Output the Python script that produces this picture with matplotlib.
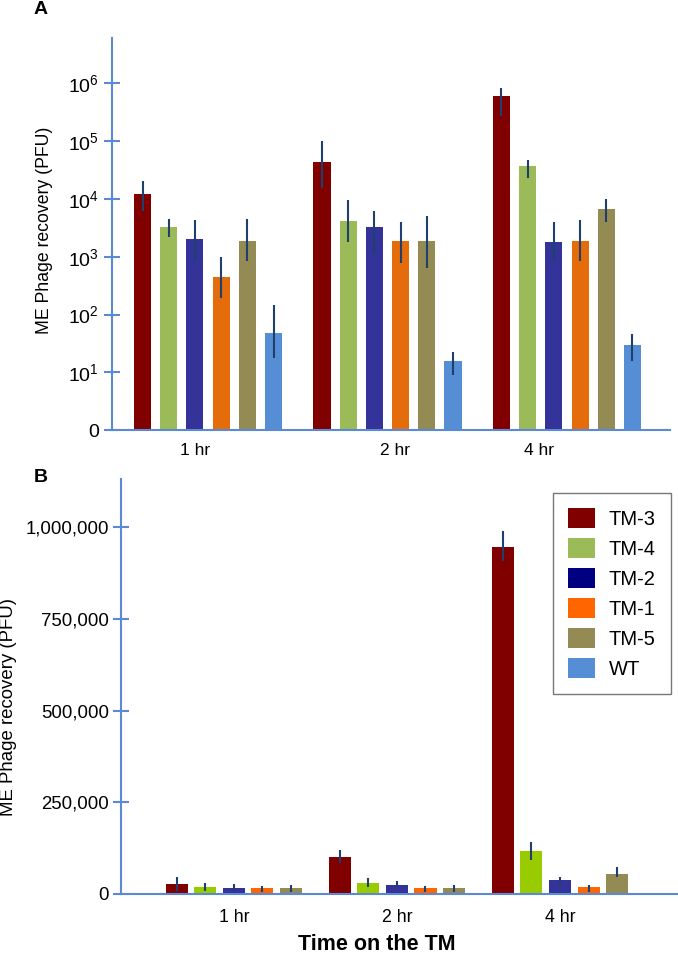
import matplotlib
matplotlib.use("Agg")
import matplotlib.pyplot as plt
from matplotlib.patches import Patch
from matplotlib.ticker import FuncFormatter
import numpy as np

plt.rcParams['font.family'] = ['Liberation Sans', 'DejaVu Sans']
plt.rcParams['mathtext.fontset'] = 'custom'
plt.rcParams['mathtext.rm'] = 'Liberation Sans'
plt.rcParams['mathtext.it'] = 'Liberation Sans:italic'
plt.rcParams['mathtext.bf'] = 'Liberation Sans:bold'

# ---------------- data ----------------
times = ["1 hr", "2 hr", "4 hr"]
strains = ["TM-3", "TM-4", "TM-2", "TM-1", "TM-5", "WT"]

# Panel A (log scale) : mean, lower and upper end of error bars
a_tm3 = [12000, 43000, 600000]
a_tm3_lo = [6300, 15800, 269000]
a_tm3_hi = [20900, 102000, 851000]
a_tm4 = [3250, 4100, 38000]
a_tm4_lo = [2240, 1780, 23400]
a_tm4_hi = [4470, 9550, 46800]
a_tm2 = [2000, 3250, 1780]
a_tm2_lo = [830, 1100, 830]
a_tm2_hi = [4270, 6170, 4070]
a_tm1 = [455, 1850, 1900]
a_tm1_lo = [190, 794, 830]
a_tm1_hi = [977, 4070, 4270]
a_tm5 = [1900, 1850, 6600]
a_tm5_lo = [830, 646, 3980]
a_tm5_hi = [4470, 5010, 10200]
a_wt = [47, 15.5, 30]
a_wt_lo = [17.4, 8.9, 15.5]
a_wt_hi = [145, 22.9, 45.7]

# Panel B (linear scale)
b_tm3 = [26000, 101000, 946000]
b_tm3_lo = [8000, 84000, 909000]
b_tm3_hi = [46000, 120000, 990000]
b_tm4 = [19000, 30000, 117000]
b_tm4_lo = [8000, 19000, 92000]
b_tm4_hi = [30000, 44000, 142000]
b_tm2 = [16000, 25000, 38000]
b_tm2_lo = [6000, 19000, 30000]
b_tm2_hi = [26000, 36000, 47000]
b_tm1 = [16000, 15000, 18000]
b_tm1_lo = [4500, 6000, 6000]
b_tm1_hi = [22000, 23000, 24000]
b_tm5 = [15000, 15000, 55000]
b_tm5_lo = [4500, 6000, 47000]
b_tm5_hi = [25000, 25000, 74000]
b_wt = [47, 15.5, 30]
b_wt_lo = [17.4, 8.9, 15.5]
b_wt_hi = [145, 22.9, 45.7]

a_series = [(a_tm3, a_tm3_lo, a_tm3_hi), (a_tm4, a_tm4_lo, a_tm4_hi),
            (a_tm2, a_tm2_lo, a_tm2_hi), (a_tm1, a_tm1_lo, a_tm1_hi),
            (a_tm5, a_tm5_lo, a_tm5_hi), (a_wt, a_wt_lo, a_wt_hi)]
b_series = [(b_tm3, b_tm3_lo, b_tm3_hi), (b_tm4, b_tm4_lo, b_tm4_hi),
            (b_tm2, b_tm2_lo, b_tm2_hi), (b_tm1, b_tm1_lo, b_tm1_hi),
            (b_tm5, b_tm5_lo, b_tm5_hi), (b_wt, b_wt_lo, b_wt_hi)]

a_colors = ["#800000", "#9BBB59", "#333399", "#E46C0A", "#948A54", "#558ED5"]
b_colors = ["#800000", "#99CC00", "#333399", "#FF6600", "#948A54", "#558ED5"]
legend_colors = ["#800000", "#9BBB59", "#000080", "#FF6600", "#948A54", "#558ED5"]

axis_color = "#5B89D6"
err_color = "#1F3F6F"

fig = plt.figure(figsize=(6.78, 9.6), dpi=100)

# ---------------- Panel A ----------------
axA = fig.add_axes([0.1652, 0.552, 0.823, 0.408])
x = np.arange(len(times))
stepA = 0.146
widthA = 0.095
for i, (vals, lo, hi) in enumerate(a_series):
    v = np.array(vals, float)
    yerr = [v - np.array(lo), np.array(hi) - v]
    pos = x + (i - 2.5) * stepA
    axA.bar(pos, v, width=widthA, color=a_colors[i], zorder=2)
    axA.errorbar(pos, v, yerr=yerr, fmt='none', ecolor=err_color,
                 elinewidth=1.5, capsize=0, zorder=3)
axA.set_yscale('log')
axA.set_ylim(1, 10 ** 6.78)
axA.set_xlim(-0.535, 2.574)
axA.set_yticks([1, 10, 100, 1e3, 1e4, 1e5, 1e6])
axA.set_yticklabels(["0"] + [r"$\mathregular{10^{%d}}$" % k for k in range(1, 7)])
axA.yaxis.set_minor_locator(matplotlib.ticker.NullLocator())
axA.set_xticks([-0.072, 1.042, 1.844])
axA.set_xticklabels(times)
axA.tick_params(axis='x', length=0, pad=9, labelsize=12.5)
axA.tick_params(axis='y', direction='inout', length=11, width=1.5,
                color=axis_color, pad=4, labelsize=14)
for s in ['top', 'right']:
    axA.spines[s].set_visible(False)
for s in ['left', 'bottom']:
    axA.spines[s].set_color(axis_color)
    axA.spines[s].set_linewidth(1.5)
axA.set_ylabel("ME Phage recovery (PFU)", fontsize=12.7)
axA.yaxis.set_label_coords(-0.105, 0.51)

# ---------------- Panel B ----------------
axB = fig.add_axes([0.1785, 0.06875, 0.82, 0.432])
stepB = 0.175
widthB = 0.135
for i, (vals, lo, hi) in enumerate(b_series):
    v = np.array(vals, float)
    yerr = [v - np.array(lo), np.array(hi) - v]
    pos = x + (i - 2.5) * stepB
    axB.bar(pos, v, width=widthB, color=b_colors[i], zorder=2)
    axB.errorbar(pos, v, yerr=yerr, fmt='none', ecolor=err_color,
                 elinewidth=1.5, capsize=0, zorder=3)
axB.set_ylim(0, 1131000)
axB.set_xlim(-0.78, 2.63)
axB.set_yticks([0, 250000, 500000, 750000, 1000000])
axB.yaxis.set_major_formatter(FuncFormatter(lambda v, p: f"{int(v):,}"))
axB.set_xticks(x - 0.5 * stepB)
axB.set_xticklabels(times)
axB.tick_params(axis='x', length=0, pad=11, labelsize=12.8)
axB.tick_params(axis='y', direction='inout', length=11, width=1.5,
                color=axis_color, pad=3, labelsize=13.4)
for s in ['top', 'right']:
    axB.spines[s].set_visible(False)
for s in ['left', 'bottom']:
    axB.spines[s].set_color(axis_color)
    axB.spines[s].set_linewidth(1.5)
axB.set_ylabel("ME Phage recovery (PFU)", fontsize=13.4)
axB.yaxis.set_label_coords(-0.187, 0.45)

handles = [Patch(facecolor=c, edgecolor='none') for c in legend_colors]
leg = axB.legend(handles, strains, loc='upper right', bbox_to_anchor=(0.989, 0.966),
                 fontsize=14.5, frameon=True, fancybox=False, edgecolor='#555555',
                 handlelength=1.3, handleheight=1.15, handletextpad=0.7,
                 labelspacing=0.45, borderpad=0.75, borderaxespad=0)
leg.get_frame().set_linewidth(1.0)

fig.text(377 / 678, 1 - 945 / 960, "Time on the TM", ha='center', va='center',
         fontsize=15.5, fontweight='bold')
fig.text(41 / 678, 1 - 10 / 960, "A", ha='center', va='center', fontsize=14, fontweight='bold')
fig.text(41 / 678, 1 - 478 / 960, "B", ha='center', va='center', fontsize=14, fontweight='bold')

fig.savefig("out.png", dpi=100)
